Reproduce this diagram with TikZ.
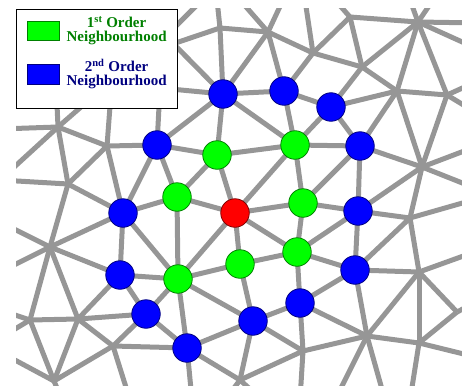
\documentclass[tikz,border=0pt]{standalone}
\usepackage{fontspec}
\newfontfamily\legendfont{Liberation Serif}
\usepackage{tikz}
\usetikzlibrary{positioning,backgrounds}
\definecolor{meshgray}{RGB}{150,150,150}
\definecolor{firstfill}{RGB}{0,255,0}
\definecolor{firstline}{RGB}{0,128,0}
\definecolor{secondfill}{RGB}{0,0,255}
\definecolor{secondline}{RGB}{0,0,128}
\definecolor{rootfill}{RGB}{255,0,0}
\definecolor{rootline}{RGB}{128,0,0}

\begin{document}
\begin{tikzpicture}[x=1pt,y=-1pt,
  mesh/.style={meshgray,line width=5pt},
  vert/.style={circle,draw,line width=0.8pt,minimum size=28.5pt,inner sep=0pt},
  root/.style={vert,fill=rootfill,draw=rootline},
  first/.style={vert,fill=firstfill,draw=firstline},
  second/.style={vert,fill=secondfill,draw=secondline},
  keybox/.style={draw,line width=0.8pt,minimum width=32pt,minimum height=19pt,inner sep=0pt},
  keytext/.style={font=\legendfont\bfseries\fontsize{15}{13.5}\selectfont,align=center,inner sep=0pt}]
\useasboundingbox (0,0) rectangle (462,385);

% coloured vertices
\node[root] (c0) at (235,213) {};
\node[first] (f1) at (217,155) {};
\node[first] (f2) at (295,145) {};
\node[first] (f3) at (177,197) {};
\node[first] (f4) at (303,203) {};
\node[first] (f5) at (297,252) {};
\node[first] (f6) at (240,264) {};
\node[first] (f7) at (178,279) {};
\node[second] (s1) at (223,94) {};
\node[second] (s2) at (284,91) {};
\node[second] (s3) at (331,107) {};
\node[second] (s4) at (157,145) {};
\node[second] (s5) at (360,146) {};
\node[second] (s6) at (123,213) {};
\node[second] (s7) at (358,211) {};
\node[second] (s8) at (120,275) {};
\node[second] (s9) at (355,270) {};
\node[second] (s10) at (146,314) {};
\node[second] (s11) at (300,303) {};
\node[second] (s12) at (253,321) {};
\node[second] (s13) at (187,348) {};

% plain mesh vertices
\coordinate (m1) at (58,127);
\coordinate (m2) at (107,146);
\coordinate (m3) at (68,184);
\coordinate (m4) at (50,247);
\coordinate (m5) at (30,320);
\coordinate (m6) at (78,319);
\coordinate (m7) at (113,346);
\coordinate (m8) at (54,381);
\coordinate (m9) at (240,380);
\coordinate (m10) at (303,351);
\coordinate (m11) at (367,336);
\coordinate (m12) at (419,343);
\coordinate (m13) at (457,312);
\coordinate (m14) at (419,272);
\coordinate (m15) at (410,218);
\coordinate (m16) at (422,167);
\coordinate (m17) at (397,91);
\coordinate (m18) at (447,95);
\coordinate (m19) at (418,22);
\coordinate (m20) at (362,67);
\coordinate (m21) at (313,53);
\coordinate (m22) at (350,17);
\coordinate (m23) at (268,32);
\coordinate (m24) at (220,28);
% under the key
\coordinate (h1) at (55,60);
\coordinate (h2) at (112,80);
\coordinate (h3) at (160,88);
\coordinate (h4) at (140,55);
\coordinate (h5) at (150,20);
\coordinate (h6) at (165,37);
% outside the frame
\coordinate (o1) at (0,129);
\coordinate (o2) at (0,180);
\coordinate (o3) at (0,222);
\coordinate (o4) at (0,272);
\coordinate (o5) at (0,310);
\coordinate (o6) at (0,338);
\coordinate (o7) at (0,352);
\coordinate (o8) at (62,400);
\coordinate (o9) at (130,400);
\coordinate (o10) at (192,400);
\coordinate (o11) at (225,400);
\coordinate (o12) at (262,400);
\coordinate (o13) at (300,400);
\coordinate (o14) at (335,400);
\coordinate (o15) at (385,400);
\coordinate (o16) at (410,400);
\coordinate (o18) at (480,23);
\coordinate (o19) at (480,50);
\coordinate (o20) at (480,80);
\coordinate (o21) at (480,115);
\coordinate (o22) at (480,145);
\coordinate (o23) at (480,190);
\coordinate (o24) at (480,198);
\coordinate (o25) at (480,250);
\coordinate (o26) at (480,300);
\coordinate (o27) at (480,358);
\coordinate (o28) at (217,0);
\coordinate (o29) at (240,0);
\coordinate (o30) at (283,0);
\coordinate (o31) at (305,0);
\coordinate (o32) at (335,0);
\coordinate (o33) at (410,0);
\coordinate (o34) at (433,0);
\coordinate (o35) at (202,0);

\begin{pgfonlayer}{background}
\begin{scope}
\clip (16,9) rectangle (462,385);
\foreach \a/\b in {m24/o28,m24/h4,m24/m23,m24/s1,
  m23/o29,m23/o30,m23/s1,m23/s2,m23/m21,
  m21/o31,m21/m22,m21/m20,m21/s2,
  m22/o32,m22/m20,m22/m19,
  m19/o33,m19/o34,m19/o18,m19/o19,m19/m20,m19/m17,m19/m18,
  m20/m17,m20/s3,
  m17/s3,m17/s5,m17/m16,m17/m18,
  m18/m16,m18/o20,m18/o21,
  m16/s5,m16/s7,m16/m15,m16/o22,m16/o23,
  m15/s7,m15/s9,m15/m14,m15/o24,
  m14/s9,m14/m11,m14/m12,m14/m13,m14/o25,
  m13/m12,m13/o26,
  m12/m11,m12/o16,m12/o27,
  m11/s9,m11/s11,m11/m10,m11/o14,m11/o15,
  m10/s11,m10/s12,m10/m9,m10/o13,
  m9/s12,m9/s13,m9/o11,m9/o12,
  s13/o10,s13/m7,s13/s10,s13/s12,s13/f7,
  m7/o9,m7/m8,m7/m6,m7/s10,
  m8/o7,m8/m5,m8/m6,m8/o8,
  m6/m5,m6/m4,m6/s8,m6/s10,
  m5/m4,m5/o5,m5/o6,
  m4/o3,m4/o4,m4/m3,m4/s6,m4/s8,
  m3/o2,m3/m1,m3/m2,m3/s6,
  m1/o1,m1/o2,m1/h1,m1/h2,m1/m2,
  m2/h2,m2/s4,m2/s6,
  s4/h3,s4/s1,s4/f1,s4/s6,s4/f3,
  s1/h3,s1/h5,s1/s2,s1/f1,s1/f2,
  h6/o35,
  s2/s3,s2/f2,s3/f2,s3/s5,
  s5/f2,s5/f4,s5/s7,
  s6/f3,s6/s8,s6/f7,
  s7/f4,s7/f5,s7/s9,
  s8/f7,s8/s10,
  s9/f5,s9/s11,
  s10/f7,
  s11/f5,s11/s12,
  s12/f6,s12/f7,
  f1/f2,f1/f3,f1/c0,
  f2/c0,f2/f4,
  f3/c0,f3/f7,
  f4/c0,f4/f5,
  f5/c0,f5/f6,
  f6/c0,f6/f7,
  f7/c0}
  \draw[mesh] (\a.center) -- (\b.center);
\end{scope}
\end{pgfonlayer}

% key
\node[draw,line width=1pt,fill=white,minimum width=161pt,minimum height=99pt,anchor=north west] (key) at (16,9) {};
\node[keybox,fill=firstfill,draw=firstline] (key1) at (43,30.5) {};
\node[keybox,fill=secondfill,draw=secondline,minimum height=20pt] (key2) at (43,74) {};
\node[keytext,text=firstline,right=7pt of key1] (key1text) {1\textsuperscript{st} Order\\Neighbourhood};
\node[keytext,text=secondline,right=7pt of key2] (key2text) {2\textsuperscript{nd} Order\\Neighbourhood};
\end{tikzpicture}
\end{document}
